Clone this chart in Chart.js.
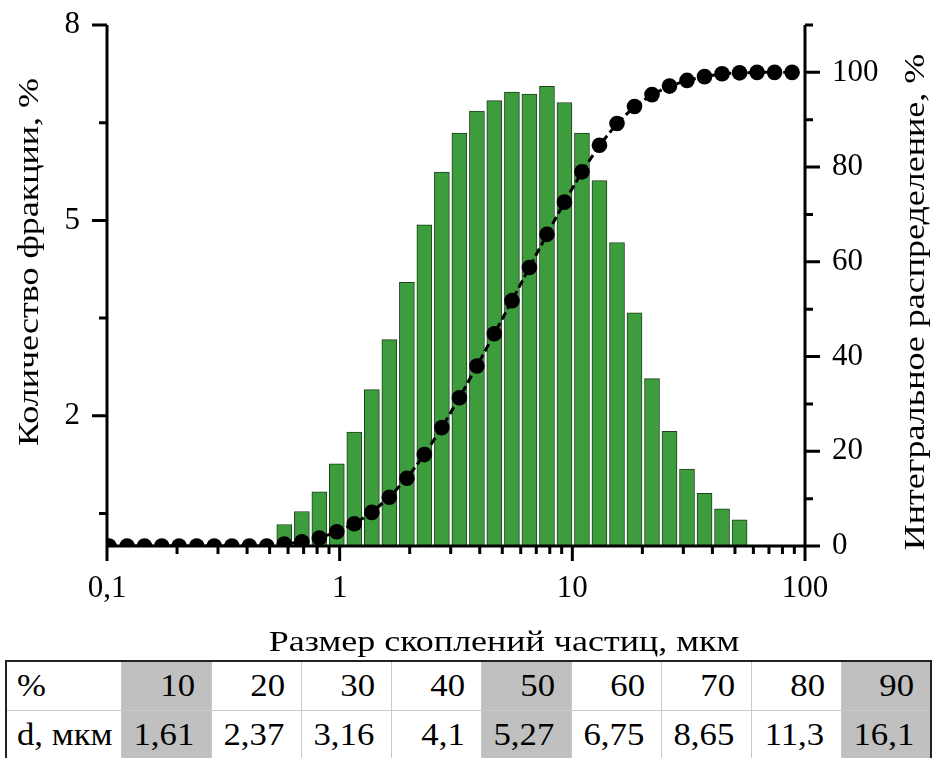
<!DOCTYPE html>
<html>
<head>
<meta charset="utf-8">
<script src="https://cdn.jsdelivr.net/npm/chart.js@4.4.1/dist/chart.umd.min.js"></script>
<style>
  html, body { margin: 0; padding: 0; background: #fff; }
  #wrap { position: relative; width: 939px; height: 758px; overflow: hidden; }
  #chartBox { position: absolute; left: 0; top: 0; width: 939px; height: 660px; }
  #dTable {
    position: absolute; left: 5px; top: 660px;
    border-collapse: collapse; table-layout: fixed;
    font-family: "Liberation Serif", "Liberation Sans", sans-serif; font-size: 31px; color: #000;
    border: 2px solid #222;
  }
  #dTable td {
    border: 1px solid #c9c9c9; height: 48px; padding: 0 16px 0 0;
    text-align: right; white-space: nowrap; overflow: hidden;
  }
  #dTable td span { display: inline-block; transform: scaleX(1.12); transform-origin: right center; }
  #dTable td.head { text-align: left; padding: 0 0 0 10px; }
  #dTable td.head span { transform-origin: left center; }
  #dTable td.mark { background: #c0c0c0; }
</style>
</head>
<body>
<div id="wrap">
  <div id="chartBox"><canvas id="psd"></canvas></div>
  <table id="dTable"></table>
</div>
<script>
// channel sizes, µm (quarter-root-of-two series)
const sizes = [0.102, 0.122, 0.145, 0.172, 0.204, 0.243, 0.289, 0.344, 0.409, 0.486,
  0.578, 0.688, 0.818, 0.972, 1.156, 1.375, 1.635, 1.945, 2.312, 2.75,
  3.27, 3.89, 4.62, 5.5, 6.54, 7.78, 9.25, 11.0, 13.08, 15.56,
  18.5, 22.0, 26.16, 31.11, 37.0, 44.0, 52.33, 62.23, 74.0, 88.0];

// fraction per channel, %
const fraction = [0, 0, 0, 0, 0, 0, 0, 0, 0, 0,
  0.33, 0.53, 0.83, 1.26, 1.75, 2.40, 3.17, 4.05, 4.93, 5.74,
  6.34, 6.68, 6.84, 6.97, 6.94, 7.06, 6.81, 6.34, 5.61, 4.66,
  3.58, 2.57, 1.76, 1.18, 0.81, 0.57, 0.40, 0, 0, 0];

// cumulative distribution, %
const cumulative = [0, 0, 0, 0, 0, 0, 0, 0, 0, 0,
  0.4, 0.9, 1.7, 3.0, 4.7, 7.1, 10.3, 14.3, 19.3, 25.0,
  31.3, 38.0, 44.8, 51.8, 58.8, 65.8, 72.6, 79.0, 84.6, 89.2,
  92.8, 95.3, 97.1, 98.3, 99.1, 99.7, 99.9, 100, 100, 100];

// percentile table
const pctLabels = [10, 20, 30, 40, 50, 60, 70, 80, 90];
const dValues = ['1,61', '2,37', '3,16', '4,1', '5,27', '6,75', '8,65', '11,3', '16,1'];
const marked = [10, 50, 90];

// axis ticks
const xMajor = [0.1, 1, 10, 100];
const xMinor = [0.2, 0.3, 0.4, 0.5, 0.6, 0.7, 0.8, 0.9, 2, 3, 4, 5, 6, 7, 8, 9,
  20, 30, 40, 50, 60, 70, 80, 90];
const leftMajor = [2, 5, 8];
const leftMinor = [0.5, 3.5, 6.5];
const rightMajor = [0, 20, 40, 60, 80, 100];
const rightMinor = [10, 30, 50, 70, 90, 110];

const xTitle = 'Размер скоплений частиц, мкм';
const leftTitle = 'Количество фракции, %';
const rightTitle = 'Интегральное распределение, %';

const FONT = '"Liberation Serif", "Liberation Sans", sans-serif';
Chart.defaults.font.family = FONT;
Chart.defaults.color = '#000';

function comma(v) { return String(v).replace('.', ','); }

// titles are set a little wider than the font's natural width
function stretchedText(ctx, text, x, y, angle) {
  ctx.save();
  ctx.translate(x, y);
  ctx.rotate(angle);
  ctx.scale(1.2, 1);
  ctx.fillText(text, 0, 0);
  ctx.restore();
}

// axis lines, tick marks and axis titles
const axisFrame = {
  id: 'axisFrame',
  afterDraw(chart) {
    const { ctx, chartArea: a, scales } = chart;
    ctx.save();
    ctx.strokeStyle = '#000';
    ctx.lineWidth = 3;
    ctx.beginPath();
    ctx.moveTo(a.left, a.top); ctx.lineTo(a.left, a.bottom);
    ctx.moveTo(a.right, a.top); ctx.lineTo(a.right, a.bottom);
    ctx.moveTo(a.left - 1.5, a.bottom); ctx.lineTo(a.right + 1.5, a.bottom);
    const major = 15, minor = 8;
    xMajor.forEach(v => { const x = scales.x.getPixelForValue(v); ctx.moveTo(x, a.bottom); ctx.lineTo(x, a.bottom + major); });
    xMinor.forEach(v => { const x = scales.x.getPixelForValue(v); ctx.moveTo(x, a.bottom); ctx.lineTo(x, a.bottom + minor); });
    leftMajor.forEach(v => { const y = scales.y.getPixelForValue(v); ctx.moveTo(a.left, y); ctx.lineTo(a.left - major, y); });
    leftMinor.forEach(v => { const y = scales.y.getPixelForValue(v); ctx.moveTo(a.left, y); ctx.lineTo(a.left - minor, y); });
    rightMajor.forEach(v => { const y = scales.y1.getPixelForValue(v); ctx.moveTo(a.right, y); ctx.lineTo(a.right + major, y); });
    rightMinor.forEach(v => { const y = scales.y1.getPixelForValue(v); ctx.moveTo(a.right, y); ctx.lineTo(a.right + minor, y); });
    ctx.stroke();

    ctx.fillStyle = '#000';
    ctx.font = '30px ' + FONT;
    ctx.textAlign = 'center';
    ctx.textBaseline = 'middle';
    stretchedText(ctx, xTitle, 504, 643, 0);
    stretchedText(ctx, leftTitle, 30, 262, -Math.PI / 2);
    stretchedText(ctx, rightTitle, 916, 302, -Math.PI / 2);
    ctx.restore();
  }
};

const tickFont = { size: 31 };
// labels sit beside the plot; keep them from pushing the plot area inward
const noEdgePadding = s => { s.paddingTop = 0; s.paddingBottom = 0; s.paddingLeft = 0; s.paddingRight = 0; };

new Chart(document.getElementById('psd'), {
  data: {
    datasets: [
      {
        type: 'line',
        label: 'Интегральное распределение',
        data: sizes.map((s, i) => ({ x: s, y: cumulative[i] })),
        yAxisID: 'y1',
        borderColor: '#000',
        borderWidth: 3,
        borderDash: [8, 4],
        pointRadius: 7.8,
        pointBackgroundColor: '#000',
        pointBorderWidth: 0,
        tension: 0,
        order: 0
      },
      {
        type: 'bar',
        label: 'Количество фракции',
        data: sizes.map((s, i) => ({ x: s, y: fraction[i] > 0 ? fraction[i] : null })),
        yAxisID: 'y',
        backgroundColor: '#3d9d3d',
        borderColor: '#1d401d',
        borderWidth: 1,
        barThickness: 15,
        order: 1
      }
    ]
  },
  options: {
    responsive: true,
    maintainAspectRatio: false,
    animation: false,
    layout: { padding: { top: 25, left: 0, right: 0, bottom: 0 } },
    plugins: { legend: { display: false }, tooltip: { enabled: false } },
    scales: {
      x: {
        type: 'logarithmic',
        min: 0.1, max: 100,
        grid: { display: false, drawTicks: false },
        border: { display: false },
        afterBuildTicks: s => { s.ticks = xMajor.map(v => ({ value: v })); },
        afterFit: s => { s.height = 114; noEdgePadding(s); },
        ticks: { font: tickFont, padding: 24, maxRotation: 0, callback: v => comma(v) }
      },
      y: {
        position: 'left',
        min: 0, max: 8,
        grid: { display: false, drawTicks: false },
        border: { display: false },
        afterBuildTicks: s => { s.ticks = leftMajor.map(v => ({ value: v })); },
        afterFit: s => { s.width = 107; noEdgePadding(s); },
        ticks: { font: tickFont, padding: 27 }
      },
      y1: {
        position: 'right',
        min: 0, max: 110,
        grid: { display: false, drawTicks: false },
        border: { display: false },
        afterBuildTicks: s => { s.ticks = rightMajor.map(v => ({ value: v })); },
        afterFit: s => { s.width = 134; noEdgePadding(s); },
        ticks: { font: tickFont, padding: 27 }
      }
    }
  },
  plugins: [axisFrame]
});

// percentile table under the chart
const table = document.getElementById('dTable');
const cols = document.createElement('colgroup');
cols.innerHTML = '<col style="width:115px">' + pctLabels.map(() => '<col style="width:90px">').join('');
table.appendChild(cols);
const row1 = table.insertRow();
const row2 = table.insertRow();
row1.insertCell().outerHTML = '<td class="head"><span>%</span></td>';
row2.insertCell().outerHTML = '<td class="head"><span>d, мкм</span></td>';
pctLabels.forEach((p, i) => {
  const c1 = row1.insertCell();
  const c2 = row2.insertCell();
  c1.innerHTML = '<span>' + p + '</span>';
  c2.innerHTML = '<span>' + dValues[i] + '</span>';
  if (marked.includes(p)) { c1.className = 'mark'; c2.className = 'mark'; }
});
</script>
</body>
</html>
